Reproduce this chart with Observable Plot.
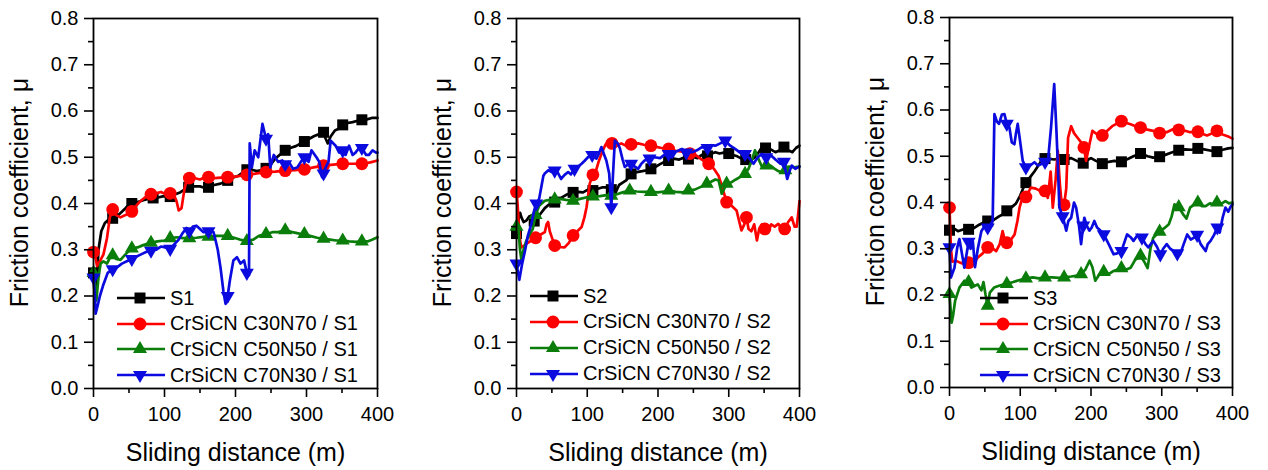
<!DOCTYPE html>
<html><head><meta charset="utf-8">
<script src="https://cdn.jsdelivr.net/npm/d3@7"></script>
<script src="https://cdn.jsdelivr.net/npm/@observablehq/plot@0.6"></script>
<style>
body{margin:0;background:#fff;}
#root{position:relative;width:1268px;height:470px;overflow:hidden;font-family:"Liberation Sans",Arial,sans-serif;background:#fff;}
.panel{position:absolute;top:0;}
.legend{position:absolute;font-size:20px;color:#000;font-family:"Liberation Sans",Arial,sans-serif;}
.row{position:absolute;left:0;height:26px;display:flex;align-items:center;white-space:nowrap;}
.row svg{display:block;overflow:visible;}
g[aria-label="x-axis label"] text{font-size:25px;}
</style></head><body><div id="root"></div>
<script>
// ---------- tick values ----------
const xTicks = [0, 100, 200, 300, 400];
const xMinorTicks = [50, 150, 250, 350];
const yTicks = [0, 0.1, 0.2, 0.3, 0.4, 0.5, 0.6, 0.7, 0.8];
const yMinorTicks = [0.05, 0.15, 0.25, 0.35, 0.45, 0.55, 0.65, 0.75];
const xLabel = "Sliding distance (m)";
const yLabel = "Friction coefficient, μ";
const seriesNames = ["S", "CrSiCN C30N70 / S", "CrSiCN C50N50 / S", "CrSiCN C70N30 / S"];
const substrates = ["1", "2", "3"];

// ---------- panel 1 (S1) : [distance m, friction coefficient] ----------
const p1_S1 = [[0,0.25],[2,0.19],[4,0.2],[7,0.3],[11,0.34],[16,0.358],[21,0.365],[27,0.368],[31,0.37],[37,0.378],[44,0.388],[51,0.4],[54,0.4],[62,0.403],[70,0.407],[77,0.41],[84,0.412],[91,0.413],[99,0.416],[108,0.415],[115,0.42],[122,0.424],[128,0.43],[134,0.435],[142,0.437],[150,0.437],[156,0.434],[162,0.435],[170,0.44],[179,0.443],[189,0.45],[196,0.456],[204,0.46],[210,0.467],[216,0.473],[223,0.473],[230,0.47],[237,0.472],[243,0.476],[250,0.485],[256,0.497],[262,0.505],[270,0.515],[277,0.52],[285,0.524],[292,0.53],[297,0.534],[304,0.54],[311,0.546],[318,0.55],[324,0.554],[327,0.54],[330,0.53],[334,0.545],[340,0.558],[346,0.562],[351,0.57],[358,0.574],[365,0.576],[372,0.579],[378,0.581],[385,0.582],[392,0.585],[400,0.585]];
const p1_C30N70 = [[0,0.295],[2,0.29],[5,0.265],[9,0.275],[14,0.29],[19,0.325],[23,0.37],[27,0.387],[32,0.375],[38,0.37],[45,0.375],[54,0.383],[60,0.395],[66,0.405],[74,0.415],[81,0.42],[88,0.422],[95,0.425],[102,0.42],[108,0.422],[113,0.42],[117,0.405],[120,0.385],[124,0.39],[128,0.43],[131,0.45],[135,0.455],[142,0.455],[150,0.452],[156,0.456],[162,0.457],[170,0.455],[180,0.456],[189,0.457],[200,0.458],[208,0.46],[216,0.462],[230,0.465],[243,0.468],[256,0.469],[270,0.471],[284,0.472],[297,0.474],[310,0.478],[324,0.482],[338,0.484],[351,0.486],[364,0.486],[378,0.486],[390,0.489],[400,0.493]];
const p1_C50N50 = [[0,0.25],[2,0.22],[4,0.19],[7,0.24],[10,0.27],[14,0.275],[19,0.27],[24,0.285],[27,0.288],[32,0.28],[38,0.278],[45,0.29],[54,0.303],[62,0.305],[70,0.31],[81,0.315],[90,0.318],[100,0.32],[108,0.325],[118,0.327],[126,0.325],[135,0.325],[145,0.326],[155,0.328],[162,0.328],[172,0.33],[180,0.33],[189,0.33],[198,0.326],[206,0.322],[216,0.319],[225,0.322],[233,0.33],[243,0.334],[252,0.338],[260,0.338],[270,0.342],[280,0.338],[290,0.335],[297,0.334],[305,0.33],[315,0.326],[324,0.324],[333,0.322],[342,0.32],[351,0.32],[360,0.318],[370,0.317],[378,0.318],[386,0.318],[393,0.322],[400,0.327]];
const p1_C70N30 = [[0,0.24],[2,0.2],[3,0.162],[6,0.18],[9,0.2],[14,0.225],[20,0.25],[27,0.258],[33,0.262],[40,0.27],[47,0.275],[54,0.28],[60,0.285],[67,0.29],[74,0.295],[81,0.298],[88,0.3],[95,0.307],[101,0.305],[108,0.302],[114,0.312],[120,0.322],[125,0.335],[131,0.347],[135,0.34],[140,0.35],[145,0.352],[150,0.345],[155,0.338],[162,0.34],[169,0.338],[172,0.32],[175,0.3],[179,0.26],[183,0.21],[186,0.183],[189,0.2],[192,0.233],[197,0.277],[202,0.284],[207,0.27],[212,0.277],[216,0.25],[219,0.245],[220,0.53],[223,0.478],[227,0.515],[232,0.5],[238,0.572],[243,0.54],[246,0.55],[249,0.478],[254,0.505],[260,0.49],[266,0.493],[270,0.485],[275,0.49],[281,0.475],[287,0.478],[292,0.49],[297,0.5],[303,0.49],[307,0.515],[314,0.5],[318,0.49],[322,0.457],[324,0.465],[327,0.478],[331,0.49],[334,0.536],[341,0.525],[346,0.51],[351,0.515],[355,0.505],[360,0.525],[365,0.505],[369,0.51],[374,0.52],[378,0.52],[384,0.505],[388,0.505],[393,0.515],[398,0.51],[400,0.51]];

// ---------- panel 2 (S2) ----------
const p2_S2 = [[0,0.335],[2.4,0.363],[5,0.38],[7,0.37],[10,0.36],[14,0.363],[18,0.372],[21,0.374],[25,0.362],[30,0.37],[35,0.38],[40,0.39],[46,0.398],[54,0.403],[60,0.41],[66,0.415],[72,0.42],[80,0.424],[87,0.425],[94,0.424],[101,0.43],[108,0.428],[115,0.432],[122,0.435],[129,0.435],[134,0.43],[139,0.42],[145,0.44],[150,0.445],[155,0.45],[162,0.464],[170,0.468],[178,0.47],[184,0.472],[190,0.475],[196,0.479],[203,0.485],[209,0.49],[215,0.493],[222,0.497],[230,0.495],[238,0.5],[243,0.496],[250,0.5],[256,0.498],[262,0.505],[270,0.503],[276,0.508],[281,0.511],[287,0.508],[293,0.51],[300,0.508],[306,0.505],[312,0.502],[318,0.497],[324,0.495],[330,0.493],[337,0.5],[342,0.51],[347,0.522],[352,0.52],[358,0.518],[366,0.511],[372,0.515],[378,0.522],[384,0.515],[390,0.511],[395,0.52],[400,0.525]];
const p2_C30N70 = [[0,0.425],[1.5,0.4],[3,0.36],[5,0.32],[7,0.305],[12,0.31],[16,0.315],[21,0.32],[27,0.326],[33,0.332],[40,0.338],[42.5,0.355],[44.7,0.36],[47,0.34],[49,0.331],[54,0.309],[60,0.306],[68,0.305],[74,0.315],[80,0.331],[86,0.34],[92,0.349],[96,0.37],[99,0.392],[103.5,0.443],[108,0.462],[111,0.464],[116,0.49],[120,0.507],[125,0.525],[129.4,0.536],[135,0.53],[141,0.525],[148,0.53],[155,0.525],[162,0.528],[172,0.53],[180,0.527],[190,0.525],[196,0.523],[205,0.52],[215,0.518],[225,0.514],[238.6,0.511],[245,0.508],[252.8,0.505],[262,0.495],[271.6,0.486],[279,0.475],[285.6,0.46],[290,0.439],[297,0.403],[304,0.395],[311,0.385],[315,0.36],[318,0.342],[322,0.355],[325,0.37],[328,0.345],[332,0.34],[336,0.355],[339.8,0.32],[343,0.345],[347,0.355],[351,0.345],[356,0.34],[360,0.355],[365,0.35],[370,0.356],[375,0.345],[379,0.345],[384,0.36],[389,0.37],[393,0.35],[396,0.35],[398,0.375],[400,0.405]];
const p2_C50N50 = [[0,0.35],[2.4,0.349],[5,0.3],[7,0.277],[10,0.3],[14,0.32],[19,0.335],[23,0.345],[27,0.375],[32,0.395],[40,0.406],[47,0.408],[54,0.409],[62,0.41],[70,0.408],[80,0.406],[90,0.41],[101,0.414],[108,0.415],[118,0.416],[127,0.418],[134,0.417],[142,0.42],[150,0.424],[160,0.428],[170,0.426],[180,0.425],[190,0.425],[200,0.424],[208,0.426],[215,0.428],[225,0.425],[235,0.424],[243,0.428],[252,0.43],[262,0.437],[269,0.443],[275,0.447],[281,0.452],[285.6,0.45],[288,0.435],[290,0.421],[293,0.43],[297,0.443],[304,0.446],[310,0.452],[317,0.458],[323,0.464],[328,0.475],[333,0.495],[337,0.515],[341,0.5],[347,0.479],[353,0.482],[359,0.482],[365,0.475],[370,0.47],[375.7,0.468],[380,0.472],[385,0.48],[392,0.478],[400,0.48]];
const p2_C70N30 = [[0,0.27],[2.4,0.248],[4,0.235],[8,0.27],[12,0.298],[16,0.33],[21,0.356],[25,0.385],[28,0.4],[32,0.41],[35,0.435],[38,0.46],[40,0.465],[45,0.472],[50,0.468],[54,0.471],[58,0.468],[63,0.453],[68,0.462],[73,0.468],[77,0.463],[82,0.475],[87,0.48],[92,0.486],[96,0.492],[101,0.5],[107,0.505],[113,0.497],[117,0.51],[120,0.522],[124,0.505],[127,0.493],[131,0.465],[134,0.392],[137,0.48],[139,0.536],[143,0.53],[146,0.52],[150,0.495],[153,0.479],[158,0.485],[162,0.486],[167,0.48],[172,0.475],[176,0.485],[181,0.493],[188,0.497],[195,0.5],[203,0.498],[209,0.505],[215,0.507],[220,0.5],[225,0.512],[234,0.518],[240,0.51],[248,0.511],[255,0.515],[262,0.522],[270,0.52],[276,0.526],[281,0.525],[288,0.53],[295,0.536],[302,0.525],[309,0.518],[316,0.51],[323,0.507],[329,0.498],[335,0.486],[341,0.5],[347,0.507],[353,0.5],[359,0.505],[366,0.495],[373,0.486],[378,0.49],[382.6,0.453],[386,0.47],[389,0.482],[394,0.475],[399,0.479],[400,0.48]];

// ---------- panel 3 (S3) ----------
const p3_S3 = [[0,0.34],[5,0.345],[12,0.338],[20,0.342],[27,0.342],[35,0.345],[42,0.352],[50,0.358],[54,0.36],[62,0.362],[70,0.37],[77,0.376],[81,0.382],[88,0.39],[94,0.398],[100,0.415],[106,0.438],[108,0.443],[114,0.455],[120,0.467],[127,0.483],[132,0.494],[135,0.495],[142,0.494],[148,0.493],[155,0.495],[162,0.493],[172,0.496],[180,0.49],[189,0.485],[195,0.492],[200,0.496],[207,0.49],[216,0.484],[225,0.488],[233,0.49],[243,0.488],[252,0.494],[260,0.5],[270,0.506],[280,0.5],[288,0.497],[297,0.499],[305,0.503],[314,0.508],[324,0.513],[333,0.515],[342,0.514],[351,0.517],[360,0.515],[370,0.512],[378,0.51],[386,0.514],[394,0.517],[400,0.518]];
const p3_C30N70 = [[0,0.389],[2,0.3],[4,0.272],[9,0.274],[15,0.27],[21,0.267],[27,0.27],[34,0.268],[40,0.281],[47,0.29],[54,0.303],[60,0.302],[66,0.295],[71,0.31],[75,0.338],[78,0.32],[81,0.313],[87,0.32],[92,0.331],[96,0.36],[99,0.389],[103,0.41],[108,0.412],[115,0.432],[122,0.43],[128,0.425],[135,0.425],[139,0.41],[143,0.467],[146,0.389],[150,0.45],[153,0.512],[156,0.44],[159,0.389],[162,0.395],[165,0.43],[167.6,0.54],[172,0.565],[176,0.55],[181,0.54],[186,0.53],[190,0.519],[193,0.49],[197,0.52],[202,0.555],[208,0.548],[216,0.545],[223,0.555],[230,0.565],[236,0.57],[243,0.576],[250,0.572],[256,0.569],[263,0.565],[270,0.562],[278,0.558],[288,0.555],[297,0.55],[307,0.552],[315,0.558],[324,0.557],[333,0.555],[340,0.552],[351,0.553],[358,0.548],[364,0.545],[372,0.55],[378,0.555],[384,0.548],[390,0.545],[395,0.542],[400,0.538]];
const p3_C50N50 = [[0,0.202],[3,0.14],[5,0.155],[8,0.188],[14,0.216],[21,0.231],[27,0.228],[31,0.216],[36,0.22],[40,0.223],[45,0.21],[48,0.228],[51,0.2],[54,0.177],[57,0.205],[63,0.216],[70,0.22],[77,0.223],[81,0.224],[90,0.228],[98,0.232],[108,0.236],[118,0.238],[126,0.236],[135,0.238],[145,0.238],[155,0.237],[162,0.238],[172,0.24],[180,0.242],[186,0.245],[192,0.255],[198,0.274],[202,0.26],[206,0.231],[212,0.245],[218,0.25],[225,0.245],[232,0.252],[243,0.258],[250,0.255],[256,0.259],[262,0.275],[270,0.285],[276,0.27],[280,0.258],[284,0.3],[288,0.324],[297,0.337],[304,0.345],[310,0.353],[314,0.37],[318,0.396],[324,0.39],[330,0.375],[335,0.365],[340,0.389],[345,0.395],[351,0.4],[357,0.392],[362,0.392],[368,0.398],[374,0.396],[378,0.4],[384,0.397],[390,0.403],[395,0.398],[400,0.4]];
const p3_C70N30 = [[0,0.303],[2,0.238],[7,0.259],[11,0.303],[14,0.321],[21,0.259],[27,0.315],[30,0.3],[33,0.316],[36,0.26],[40,0.3],[45,0.338],[50,0.35],[54,0.346],[58,0.352],[61,0.36],[63.5,0.591],[67,0.575],[70,0.57],[74,0.59],[77.6,0.591],[81,0.57],[84.7,0.562],[88,0.53],[91.7,0.526],[94,0.55],[96.4,0.57],[100,0.53],[103.5,0.49],[108,0.476],[114,0.48],[120,0.487],[125,0.48],[130,0.483],[135,0.488],[139,0.487],[143.5,0.562],[148,0.656],[151,0.56],[153,0.487],[155.3,0.389],[160,0.37],[165,0.339],[168,0.36],[172,0.367],[176,0.4],[179,0.389],[183,0.35],[186,0.31],[189,0.35],[190.6,0.367],[194,0.35],[197.7,0.339],[201,0.346],[204.7,0.36],[208.5,0.346],[213,0.34],[218,0.331],[225,0.31],[232,0.288],[237,0.29],[243,0.295],[251,0.331],[256,0.325],[260,0.317],[266,0.33],[272,0.324],[277,0.31],[281,0.303],[288,0.317],[293,0.305],[298,0.288],[302,0.3],[307,0.31],[312,0.3],[317,0.295],[322,0.29],[326,0.288],[331,0.31],[336,0.331],[341,0.32],[345.6,0.324],[350,0.33],[355,0.31],[362,0.295],[365,0.31],[369,0.317],[374,0.33],[378.6,0.346],[382,0.335],[386,0.367],[390,0.389],[394,0.38],[397,0.39],[400,0.396]];

// ---------- layout & styles (not data) ----------
const styles = [
  {color: "#000000", symbol: "square", r: 6.2, rotate: 0},
  {color: "#ff0000", symbol: "circle", r: 6.4, rotate: 0},
  {color: "#0a7d0a", symbol: "triangle", r: 5.2, rotate: 0},
  {color: "#0b0be0", symbol: "triangle", r: 5.2, rotate: 180}
];
const panels = [
  {left: 0, width: 420, ml: 93, mr: 43, mt: 18, mb: 82, legendX: 117, legendY: [298, 323.5, 349, 375], series: [p1_S1, p1_C30N70, p1_C50N50, p1_C70N30]},
  {left: 420, width: 420, ml: 96, mr: 41, mt: 18, mb: 82, legendX: 530, legendY: [296, 321.5, 347.5, 373.5], series: [p2_S2, p2_C30N70, p2_C50N50, p2_C70N30]},
  {left: 840, width: 428, ml: 109, mr: 36, mt: 17, mb: 83, legendX: 980, legendY: [298, 323.5, 349, 375], series: [p3_S3, p3_C30N70, p3_C50N50, p3_C70N30]}
];
const markerStep = 27; // symbol every 27 m, as in the original plot

function markerPoints(data) {
  const grid = d3.range(0, 401, markerStep);
  return grid.map(g => d3.least(data, d => Math.abs(d[0] - g)));
}

const root = document.getElementById("root");
const FONT = '"Liberation Sans", Arial, sans-serif';

panels.forEach((p, pi) => {
  const marks = [];
  p.series.forEach((data, si) => {
    const s = styles[si];
    marks.push(Plot.line(data, {x: d => d[0], y: d => d[1], stroke: s.color, strokeWidth: 2.7, strokeLinejoin: "round"}));
    marks.push(Plot.dot(markerPoints(data), {x: d => d[0], y: d => d[1], symbol: s.symbol, r: s.r, fill: s.color, stroke: "none", rotate: s.rotate}));
  });
  const chart = Plot.plot({
    width: p.width, height: 470,
    marginLeft: p.ml, marginRight: p.mr, marginTop: p.mt, marginBottom: p.mb,
    style: {fontFamily: FONT, fontSize: "20px", color: "#000", background: "transparent", overflow: "visible"},
    x: {domain: [0, 400]},
    y: {domain: [0, 0.8]},
    marks: [
      ...marks,
      Plot.frame({stroke: "#000", strokeWidth: 1.8}),
      Plot.axisY(yTicks, {tickSize: 9, tickPadding: 6, strokeWidth: 1.6, tickFormat: d3.format(".1f"), label: null}),
      Plot.axisY(yMinorTicks, {tickSize: 5, strokeWidth: 1.6, tickFormat: () => "", label: null}),
      Plot.text([yLabel], {text: d => d, frameAnchor: "left", rotate: -90, lineAnchor: "top", textAnchor: "middle", dx: -83, dy: -11, fontSize: 25, fill: "#000"}),
      Plot.axisX(xTicks, {tickSize: 9, tickPadding: 9, strokeWidth: 1.6, tickFormat: d3.format("d"), label: xLabel, labelAnchor: "center", labelOffset: 72, labelArrow: "none"}),
      Plot.axisX(xMinorTicks, {tickSize: 5, strokeWidth: 1.6, tickFormat: () => "", label: null})
    ]
  });
  chart.classList.add("panel");
  chart.style.left = p.left + "px";
  root.appendChild(chart);

  // legend (inside plot area, lower left)
  const leg = document.createElement("div");
  leg.className = "legend";
  leg.style.left = p.legendX + "px";
  leg.style.top = "0px";
  styles.forEach((s, si) => {
    const row = document.createElement("div");
    row.className = "row";
    row.style.top = (p.legendY[si] - 13) + "px";
    const svg = d3.create("svg").attr("width", 53).attr("height", 26);
    svg.append("line").attr("x1", 0).attr("x2", 48).attr("y1", 13).attr("y2", 13).attr("stroke", s.color).attr("stroke-width", 2.7);
    const sym = s.symbol === "square" ? d3.symbolSquare : s.symbol === "circle" ? d3.symbolCircle : d3.symbolTriangle;
    svg.append("path").attr("d", d3.symbol(sym, Math.PI * s.r * s.r)()).attr("fill", s.color)
      .attr("transform", `translate(23,13) rotate(${s.rotate})`);
    row.appendChild(svg.node());
    const span = document.createElement("span");
    span.textContent = seriesNames[si] + substrates[pi];
    row.appendChild(span);
    leg.appendChild(row);
  });
  root.appendChild(leg);
});
</script></body></html>
